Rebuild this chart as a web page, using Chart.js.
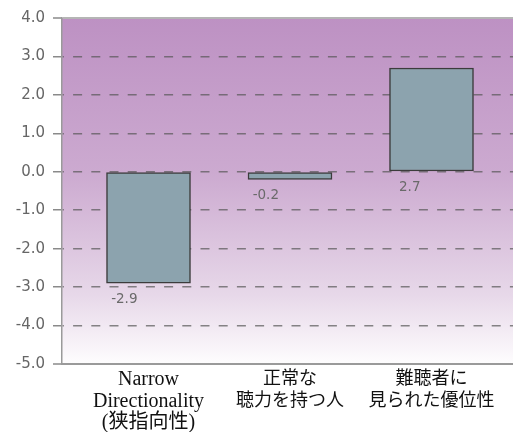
<!DOCTYPE html>
<html>
<head>
<meta charset="utf-8">
<script src="https://cdn.jsdelivr.net/npm/chart.js@4"></script>
<style>
  html, body { margin: 0; padding: 0; background: #ffffff; }
  #wrap { width: 513px; height: 432px; position: relative; }
</style>
</head>
<body>
<div id="wrap"><canvas id="chart"></canvas></div>
<script>
// Category labels (one array per category, one entry per line)
const categories = [
  ["Narrow", "Directionality", "(狭指向性)"],
  ["正常な", "聴力を持つ人"],
  ["難聴者に", "見られた優位性"]
];
// Bar values
const values = [-2.9, -0.2, 2.7];
// Value axis range and step
const yMin = -5;
const yMax = 4;
const yStep = 1;
// Category positions on the horizontal axis
const catPositions = [0, 1, 2];
const xMin = -0.6113;
const xMax = 2.576;

const points = catPositions.map((p, i) => ({ x: p, y: values[i] }));

// Purple-to-white wash behind the plot area
const plotBackground = {
  id: 'plotBackground',
  beforeDraw(chart) {
    const { ctx, chartArea: a } = chart;
    const g = ctx.createLinearGradient(0, a.top, 0, a.bottom);
    g.addColorStop(0, '#bd91c3');
    g.addColorStop(0.45, '#ccaad0');
    g.addColorStop(0.8, '#e7d8e9');
    g.addColorStop(1, '#fefdfe');
    ctx.save();
    ctx.fillStyle = g;
    ctx.fillRect(a.left, a.top, a.right - a.left, a.bottom - a.top);
    ctx.restore();
  }
};

// Value text under the lower end of each bar
const valueLabels = {
  id: 'valueLabels',
  afterDatasetsDraw(chart) {
    const { ctx } = chart;
    const meta = chart.getDatasetMeta(0);
    ctx.save();
    ctx.font = '13.5px "DejaVu Sans", sans-serif';
    ctx.fillStyle = '#6a6a6a';
    ctx.textAlign = 'right';
    ctx.textBaseline = 'middle';
    meta.data.forEach((bar, i) => {
      const p = bar.getProps(['x', 'y', 'base', 'width'], true);
      const lower = Math.max(p.y, p.base);
      const left = p.x - p.width / 2;
      ctx.fillText(values[i].toFixed(1), left + 31, lower + 16);
    });
    ctx.restore();
  }
};

const edgeValue = (v) => v === yMax || v === yMin;

new Chart(document.getElementById('chart'), {
  type: 'bar',
  data: {
    datasets: [{
      data: points,
      backgroundColor: '#8ca3ae',
      borderColor: '#3c3c3c',
      borderWidth: 1.5,
      borderSkipped: false,
      barThickness: 84
    }]
  },
  options: {
    responsive: true,
    maintainAspectRatio: false,
    devicePixelRatio: 1,
    animation: false,
    layout: { padding: { top: 18, right: 0, bottom: 0, left: 0 } },
    plugins: {
      legend: { display: false },
      tooltip: { enabled: false }
    },
    scales: {
      x: {
        type: 'linear',
        position: 'bottom',
        min: xMin,
        max: xMax,
        offset: false,
        afterFit(s) { s.height = 68; },
        grid: { display: false, drawTicks: false },
        border: { display: true, color: '#9a9a9a', width: 2 },
        ticks: {
          stepSize: 1,
          includeBounds: false,
          autoSkip: false,
          maxRotation: 0,
          minRotation: 0,
          padding: 5,
          color: '#111111',
          font: (c) => ({
            family: '"Liberation Serif", "Noto Sans CJK JP", serif',
            size: c.index === 0 ? 20 : 18,
            lineHeight: '21.5px'
          }),
          callback: (v) => {
            const i = catPositions.indexOf(v);
            return i >= 0 ? categories[i] : '';
          }
        }
      },
      y: {
        type: 'linear',
        min: yMin,
        max: yMax,
        afterFit(s) { s.width = 62; },
        grid: {
          color: (c) => edgeValue(c.tick && c.tick.value) ? '#b5b5b5' : 'rgba(85,85,85,0.7)',
          lineWidth: (c) => edgeValue(c.tick && c.tick.value) ? 2 : 1.5,
          tickLength: 9,
          tickColor: '#8a8a8a',
          tickWidth: 1.5,
          tickBorderDash: []
        },
        border: {
          display: true,
          color: '#9a9a9a',
          width: 1.5,
          dash: (c) => edgeValue(c.tick && c.tick.value) ? [] : [9, 9.2],
          dashOffset: 7.6
        },
        ticks: {
          stepSize: yStep,
          padding: 8,
          color: '#666666',
          font: { family: '"DejaVu Sans", sans-serif', size: 15 },
          callback: (v) => Number(v).toFixed(1)
        }
      }
    }
  },
  plugins: [plotBackground, valueLabels]
});
</script>
</body>
</html>
